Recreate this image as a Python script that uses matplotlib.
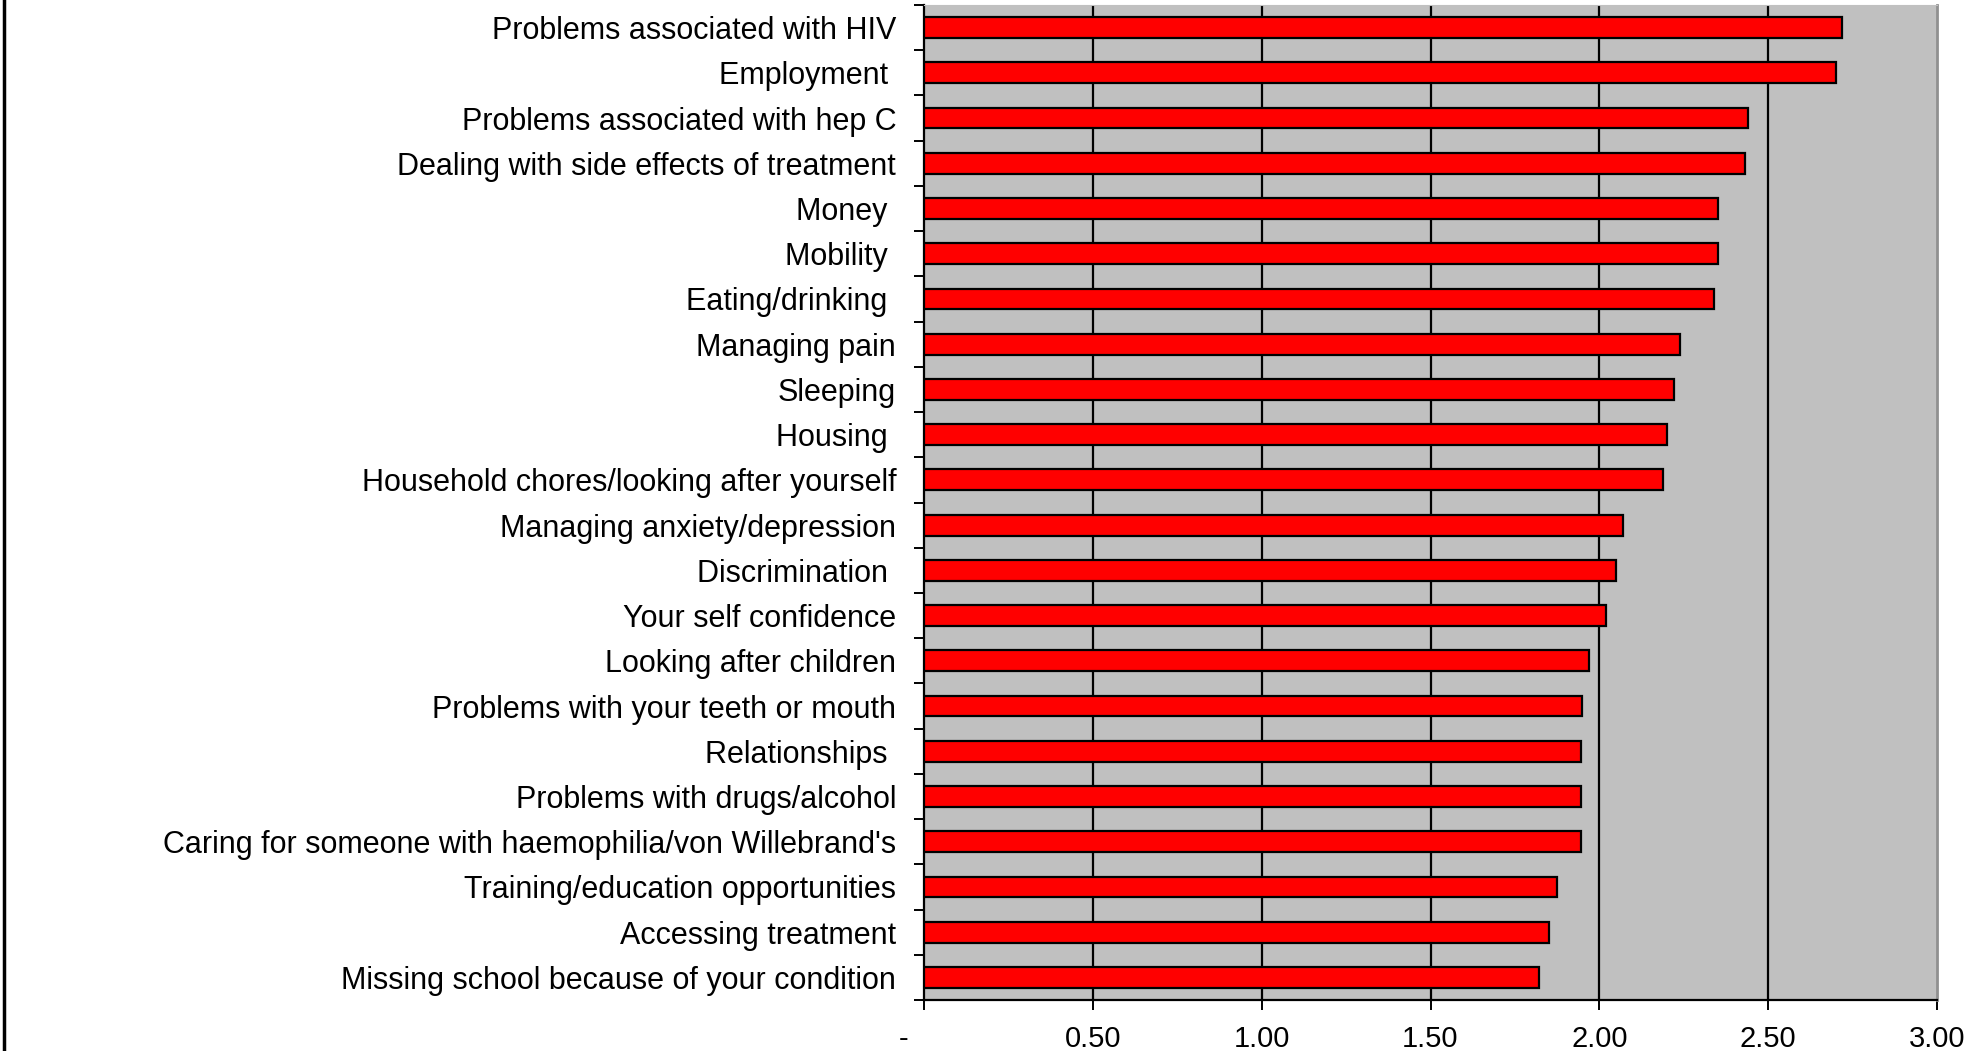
import matplotlib.pyplot as plt
import matplotlib.transforms as mtransforms
import matplotlib.lines as mlines
import numpy as np

plt.rcParams['font.family'] = ['Liberation Sans', 'DejaVu Sans']

# categories from top to bottom
categories = [
    "Problems associated with HIV",
    "Employment ",
    "Problems associated with hep C",
    "Dealing with side effects of treatment",
    "Money ",
    "Mobility ",
    "Eating/drinking ",
    "Managing pain",
    "Sleeping",
    "Housing ",
    "Household chores/looking after yourself",
    "Managing anxiety/depression",
    "Discrimination ",
    "Your self confidence",
    "Looking after children",
    "Problems with your teeth or mouth",
    "Relationships ",
    "Problems with drugs/alcohol",
    "Caring for someone with haemophilia/von Willebrand's",
    "Training/education opportunities",
    "Accessing treatment",
    "Missing school because of your condition",
]
scores = [2.72, 2.70, 2.44, 2.43, 2.35, 2.35, 2.34, 2.24, 2.22, 2.20, 2.19,
          2.07, 2.05, 2.02, 1.97, 1.95, 1.945, 1.945, 1.945, 1.875, 1.85, 1.82]
xticks = [0, 0.5, 1.0, 1.5, 2.0, 2.5, 3.0]
xlabels = ["-", "0.50", "1.00", "1.50", "2.00", "2.50", "3.00"]

W, H = 1985, 1051
fig = plt.figure(figsize=(W / 100, H / 100), dpi=100)
ax = fig.add_axes([924 / W, 1 - 1000 / H, (1937 - 924) / W, (1000 - 5) / H])
ax.set_facecolor('#c0c0c0')

y = np.arange(len(categories))
ax.barh(y, scores, height=0.46, color='#ff0000', edgecolor='black',
        linewidth=1.6, zorder=3)

ax.set_xlim(0, 3)
ax.set_ylim(len(categories) - 0.5, -0.5)

for x in xticks[1:-1]:
    ax.axvline(x, color='black', linewidth=1.6, zorder=1)

ax.set_xticks(xticks)
ax.set_xticklabels(xlabels, fontsize=21)
ax.tick_params(axis='x', direction='out', length=7, width=1.4, pad=11)
# the "-" label for zero sits left of its tick
off = mtransforms.ScaledTranslation(-20 / 100, 0, fig.dpi_scale_trans)
first = ax.get_xticklabels()[0]
first.set_transform(first.get_transform() + off)

ax.set_yticks(y)
ax.set_yticklabels(categories, fontsize=22)
ax.set_yticks(np.arange(len(categories) + 1) - 0.5, minor=True)
ax.tick_params(axis='y', which='major', length=0, pad=20)
ax.tick_params(axis='y', which='minor', direction='out', length=7, width=1.4)

for s in ['left', 'bottom']:
    ax.spines[s].set_linewidth(1.6)
    ax.spines[s].set_color('black')
ax.spines['right'].set_color('#909090')
ax.spines['right'].set_linewidth(2)
ax.spines['top'].set_color('#c0c0c0')

# chart area border on the left
fig.add_artist(mlines.Line2D([4 / W, 4 / W], [0, 1], color='black',
                             linewidth=2.5, transform=fig.transFigure))

fig.savefig('out.png', dpi=100)
